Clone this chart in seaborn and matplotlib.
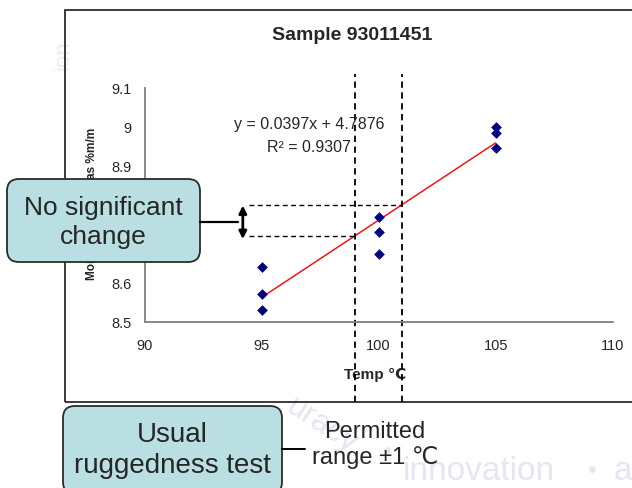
import numpy as np
import pandas as pd
import seaborn as sns
import matplotlib.pyplot as plt
from matplotlib.patches import FancyBboxPatch, Rectangle
from matplotlib.lines import Line2D
from matplotlib.transforms import IdentityTransform

# data
temps = [95, 95, 95, 100, 100, 100, 105, 105, 105]
moisture = [8.64, 8.57, 8.53, 8.77, 8.73, 8.675, 9.00, 8.985, 8.946]
eq_text = 'y = 0.0397x + 4.7876'
r2_text = 'R\u00b2 = 0.9307'
nominal_temp = 100
tolerance = 1
x_ticks = [90, 95, 100, 105, 110]
y_ticks = [8.5, 8.6, 8.7, 8.8, 8.9, 9.0, 9.1]
y_ticklabels = ['8.5', '8.6', '8.7', '8.8', '8.9', '9', '9.1']

sns.set_style('white')
plt.rcParams['font.family'] = ['Liberation Sans', 'DejaVu Sans']

W, H = 632, 489
fig = plt.figure(figsize=(W / 100, H / 100), dpi=100)
ident = IdentityTransform()


def fx(px):
    return px / W


def fy(py):
    return 1 - py / H


ax = fig.add_axes([fx(144.5), fy(322.7), fx(612.7) - fx(144.5), fy(89) - fy(322.7)])
df = pd.DataFrame({'temp': temps, 'moisture': moisture})

sns.regplot(data=df, x='temp', y='moisture', scatter=False, ci=None, ax=ax,
            color='red', line_kws={'lw': 1})
sns.scatterplot(data=df, x='temp', y='moisture', marker='D', s=30, color='#000080',
                edgecolor='#000080', linewidth=0, ax=ax, zorder=3)

ax.set_xlim(90, 110)
ax.set_ylim(8.5, 9.1)
ax.set_xticks(x_ticks)
ax.set_yticks(y_ticks)
ax.set_yticklabels(y_ticklabels)
sns.despine(ax=ax)
for s in ['left', 'bottom']:
    ax.spines[s].set_color('#808080')
    ax.spines[s].set_linewidth(1.3)
ax.tick_params(direction='out', length=4, width=1, color='#808080', labelsize=10.5)
ax.tick_params(axis='x', pad=8)
ax.tick_params(axis='y', pad=5)

ax.set_xlabel('Temp \u2103', fontsize=11, fontweight='bold', va='center')
ax.xaxis.set_label_coords((375 - 144.5) / 468.2, (322.7 - 375) / 233.7)
ax.set_ylabel('Moisture Content as %m/m', fontsize=8.6, fontweight='bold', va='center')
ax.yaxis.set_label_coords((91.7 - 144.5) / 468.2, (322.7 - 204) / 233.7)

# equation of the trendline
ax.text(97.03, 9.0076, eq_text, ha='center', va='center', fontsize=11.5)
ax.text(97.03, 8.9486, r2_text, ha='center', va='center', fontsize=11.5)

# permitted range lines
fit = np.polyfit(temps, moisture, 1)
dash = (0, (3.5, 2.5))
for t in (nominal_temp - tolerance, nominal_temp + tolerance):
    ax.axvline(t, ymin=-0.344, ymax=1.06, color='black', ls=dash, lw=1.3, clip_on=False)
    ax.hlines(np.polyval(fit, t), 94.47, t, color='black', ls=dash, lw=1.0)

lo = np.polyval(fit, nominal_temp - tolerance)
hi = np.polyval(fit, nominal_temp + tolerance)
ax.annotate('', xy=(94.2, lo - 0.009), xytext=(94.2, hi - 0.002),
            arrowprops=dict(arrowstyle='<|-|>', lw=2, color='black', mutation_scale=11,
                            shrinkA=0, shrinkB=0), annotation_clip=False)

# chart area frame
fig.add_artist(Rectangle((fx(64.5), fy(403)), 1.2, fy(11.3) - fy(403), transform=fig.transFigure,
                         fill=False, edgecolor='#1a1a1a', lw=1.2, zorder=-1))

fig.text(fx(352), fy(36), 'Sample 93011451', ha='center', va='center',
         fontsize=14, fontweight='bold')

# faint watermark
wm = '#e6e6f2'
fig.text(fx(322), fy(426), 'uracy', rotation=-33, ha='center', va='center',
         fontsize=23, color=wm, zorder=-2)
fig.text(fx(387), fy(452), '\u2022', ha='center', va='center', fontsize=18, color=wm, zorder=-2)
fig.text(fx(403), fy(472), 'innovation', ha='left', va='center', fontsize=24, color=wm, zorder=-2)
fig.text(fx(592), fy(471), '\u2022', ha='center', va='center', fontsize=18, color=wm, zorder=-2)
fig.text(fx(614), fy(472), 'a', ha='left', va='center', fontsize=24, color=wm, zorder=-2)
fig.text(fx(63), fy(55), 'ion', rotation=90, ha='center', va='center', fontsize=16,
         color='#ececf4', zorder=-2)


def callout(x0, y0, x1, y1, text, size):
    box = FancyBboxPatch((x0, H - y1), x1 - x0, y1 - y0,
                         boxstyle='round,pad=0,rounding_size=12', transform=ident,
                         facecolor='#b9dfe3', edgecolor='#2b2b2b', lw=1.3, zorder=5)
    fig.add_artist(box)
    return box


callout(7, 180, 200, 263, 'No significant\nchange', 19)
fig.text(fx(103.5), fy(222.4), 'No significant\nchange', ha='center', va='center',
         fontsize=19, linespacing=1.3, zorder=6)
fig.add_artist(Line2D([200, 237.7], [H - 222.7, H - 222.7], transform=ident,
                      color='black', lw=1.6, zorder=5))

callout(63, 407, 282, 495, 'Usual\nruggedness test', 20)
fig.text(fx(172.5), fy(451), 'Usual\nruggedness test', ha='center', va='center',
         fontsize=20, linespacing=1.25, zorder=6)
fig.add_artist(Line2D([282, 305], [H - 449.5, H - 449.5], transform=ident,
                      color='black', lw=1.4, zorder=5))
fig.text(fx(375), fy(445), 'Permitted\nrange \u00b11 \u2103', ha='center', va='center',
         fontsize=17, linespacing=1.2, zorder=6)

fig.savefig('out.png', dpi=100)
